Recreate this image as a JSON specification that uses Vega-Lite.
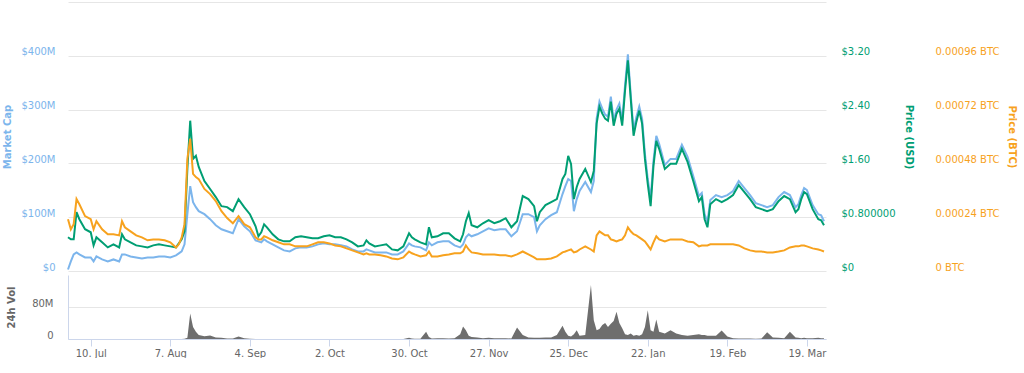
{
"$schema": "https://vega.github.io/schema/vega-lite/v6.json",
"padding": {"left": 2, "top": 2, "right": 2, "bottom": 0},
"background": "white",
"spacing": 4,
"bounds": "flush",
"data": {"values": [
{"date":"2017-07-02","mcap":2.8e6,"usd":0.501,"btc":0.000231,"vol":0},
{"date":"2017-07-03","mcap":17.8e6,"usd":0.471,"btc":0.000186,"vol":0},
{"date":"2017-07-04","mcap":30.8e6,"usd":0.471,"btc":0.000209,"vol":0},
{"date":"2017-07-05","mcap":34.6e6,"usd":0.875,"btc":0.000321,"vol":0},
{"date":"2017-07-06","mcap":30.8e6,"usd":0.770,"btc":0.000298,"vol":0},
{"date":"2017-07-08","mcap":25.2e6,"usd":0.621,"btc":0.000245,"vol":0},
{"date":"2017-07-10","mcap":25.2e6,"usd":0.576,"btc":0.000231,"vol":0},
{"date":"2017-07-11","mcap":17.8e6,"usd":0.381,"btc":0.000186,"vol":0},
{"date":"2017-07-12","mcap":27.1e6,"usd":0.501,"btc":0.000222,"vol":0},
{"date":"2017-07-14","mcap":21.5e6,"usd":0.426,"btc":0.000186,"vol":0},
{"date":"2017-07-16","mcap":17.8e6,"usd":0.351,"btc":0.000164,"vol":0},
{"date":"2017-07-18","mcap":21.5e6,"usd":0.396,"btc":0.000164,"vol":0},
{"date":"2017-07-20","mcap":17.8e6,"usd":0.351,"btc":0.000159,"vol":0},
{"date":"2017-07-21","mcap":30.8e6,"usd":0.546,"btc":0.000222,"vol":0},
{"date":"2017-07-22","mcap":30.8e6,"usd":0.471,"btc":0.000195,"vol":0},
{"date":"2017-07-24","mcap":27.1e6,"usd":0.426,"btc":0.000177,"vol":0},
{"date":"2017-07-26","mcap":25.2e6,"usd":0.381,"btc":0.000159,"vol":0},
{"date":"2017-07-28","mcap":23.4e6,"usd":0.366,"btc":0.000150,"vol":0},
{"date":"2017-07-30","mcap":25.2e6,"usd":0.351,"btc":0.000137,"vol":0},
{"date":"2017-08-01","mcap":25.2e6,"usd":0.381,"btc":0.000141,"vol":0},
{"date":"2017-08-03","mcap":27.1e6,"usd":0.396,"btc":0.000141,"vol":0},
{"date":"2017-08-05","mcap":27.1e6,"usd":0.381,"btc":0.000137,"vol":0},
{"date":"2017-08-07","mcap":25.2e6,"usd":0.366,"btc":0.000128,"vol":0},
{"date":"2017-08-09","mcap":29.0e6,"usd":0.351,"btc":0.000105,"vol":0},
{"date":"2017-08-10","mcap":32.7e6,"usd":0.411,"btc":0.000119,"vol":0},
{"date":"2017-08-11","mcap":36.4e6,"usd":0.471,"btc":0.000150,"vol":0},
{"date":"2017-08-12","mcap":49.5e6,"usd":0.591,"btc":0.000209,"vol":0.5e6},
{"date":"2017-08-13","mcap":105.6e6,"usd":1.518,"btc":0.000500,"vol":3e6},
{"date":"2017-08-14","mcap":157.9e6,"usd":2.235,"btc":0.000590,"vol":64e6},
{"date":"2017-08-15","mcap":128.0e6,"usd":1.667,"btc":0.000433,"vol":30e6},
{"date":"2017-08-16","mcap":118.7e6,"usd":1.712,"btc":0.000419,"vol":18e6},
{"date":"2017-08-17","mcap":111.2e6,"usd":1.548,"btc":0.000410,"vol":10e6},
{"date":"2017-08-19","mcap":105.6e6,"usd":1.338,"btc":0.000366,"vol":7e6},
{"date":"2017-08-21","mcap":96.3e6,"usd":1.219,"btc":0.000343,"vol":9e6},
{"date":"2017-08-23","mcap":85.0e6,"usd":1.099,"btc":0.000312,"vol":4e6},
{"date":"2017-08-25","mcap":77.6e6,"usd":0.964,"btc":0.000267,"vol":3e6},
{"date":"2017-08-27","mcap":73.8e6,"usd":0.950,"btc":0.000236,"vol":1e6},
{"date":"2017-08-29","mcap":70.1e6,"usd":0.890,"btc":0.000213,"vol":1e6},
{"date":"2017-08-31","mcap":96.3e6,"usd":1.069,"btc":0.000245,"vol":6e6},
{"date":"2017-09-02","mcap":83.2e6,"usd":0.950,"btc":0.000209,"vol":2e6},
{"date":"2017-09-04","mcap":73.8e6,"usd":0.845,"btc":0.000195,"vol":0.5e6},
{"date":"2017-09-06","mcap":57.0e6,"usd":0.665,"btc":0.000150,"vol":0},
{"date":"2017-09-07","mcap":55.1e6,"usd":0.516,"btc":0.000141,"vol":0},
{"date":"2017-09-08","mcap":53.3e6,"usd":0.576,"btc":0.000141,"vol":0},
{"date":"2017-09-09","mcap":58.9e6,"usd":0.695,"btc":0.000155,"vol":0},
{"date":"2017-09-10","mcap":55.1e6,"usd":0.650,"btc":0.000150,"vol":0},
{"date":"2017-09-12","mcap":49.5e6,"usd":0.546,"btc":0.000137,"vol":0},
{"date":"2017-09-14","mcap":43.9e6,"usd":0.471,"btc":0.000128,"vol":0},
{"date":"2017-09-16","mcap":38.3e6,"usd":0.441,"btc":0.000119,"vol":0},
{"date":"2017-09-18","mcap":36.4e6,"usd":0.441,"btc":0.000119,"vol":0},
{"date":"2017-09-20","mcap":42.1e6,"usd":0.501,"btc":0.000110,"vol":0},
{"date":"2017-09-22","mcap":43.9e6,"usd":0.516,"btc":0.000110,"vol":0},
{"date":"2017-09-24","mcap":43.9e6,"usd":0.501,"btc":0.000110,"vol":0},
{"date":"2017-09-26","mcap":45.8e6,"usd":0.486,"btc":0.000119,"vol":0},
{"date":"2017-09-28","mcap":49.5e6,"usd":0.486,"btc":0.000128,"vol":0},
{"date":"2017-09-30","mcap":51.4e6,"usd":0.516,"btc":0.000128,"vol":0},
{"date":"2017-10-02","mcap":49.5e6,"usd":0.531,"btc":0.000123,"vol":0},
{"date":"2017-10-04","mcap":49.5e6,"usd":0.501,"btc":0.000114,"vol":0},
{"date":"2017-10-06","mcap":47.7e6,"usd":0.501,"btc":0.000110,"vol":0},
{"date":"2017-10-08","mcap":45.8e6,"usd":0.471,"btc":0.000101,"vol":0},
{"date":"2017-10-10","mcap":40.2e6,"usd":0.426,"btc":0.000092,"vol":0},
{"date":"2017-10-12","mcap":36.4e6,"usd":0.366,"btc":0.000083,"vol":0},
{"date":"2017-10-14","mcap":36.4e6,"usd":0.381,"btc":0.000074,"vol":0},
{"date":"2017-10-15","mcap":40.2e6,"usd":0.456,"btc":0.000079,"vol":0},
{"date":"2017-10-16","mcap":38.3e6,"usd":0.411,"btc":0.000074,"vol":0},
{"date":"2017-10-18","mcap":34.6e6,"usd":0.366,"btc":0.000074,"vol":0},
{"date":"2017-10-20","mcap":34.6e6,"usd":0.381,"btc":0.000070,"vol":0},
{"date":"2017-10-22","mcap":34.6e6,"usd":0.396,"btc":0.000065,"vol":0},
{"date":"2017-10-24","mcap":30.8e6,"usd":0.321,"btc":0.000056,"vol":0},
{"date":"2017-10-26","mcap":30.8e6,"usd":0.307,"btc":0.000052,"vol":0},
{"date":"2017-10-28","mcap":36.4e6,"usd":0.366,"btc":0.000061,"vol":0},
{"date":"2017-10-30","mcap":51.4e6,"usd":0.561,"btc":0.000087,"vol":3e6},
{"date":"2017-10-31","mcap":47.7e6,"usd":0.501,"btc":0.000079,"vol":1e6},
{"date":"2017-11-01","mcap":45.8e6,"usd":0.471,"btc":0.000074,"vol":0.5e6},
{"date":"2017-11-03","mcap":43.9e6,"usd":0.426,"btc":0.000065,"vol":0.5e6},
{"date":"2017-11-05","mcap":38.3e6,"usd":0.396,"btc":0.000070,"vol":18e6},
{"date":"2017-11-06","mcap":53.3e6,"usd":0.650,"btc":0.000087,"vol":5e6},
{"date":"2017-11-07","mcap":47.7e6,"usd":0.501,"btc":0.000065,"vol":1e6},
{"date":"2017-11-09","mcap":53.3e6,"usd":0.516,"btc":0.000065,"vol":2e6},
{"date":"2017-11-11","mcap":55.1e6,"usd":0.561,"btc":0.000070,"vol":2e6},
{"date":"2017-11-13","mcap":55.1e6,"usd":0.561,"btc":0.000074,"vol":1e6},
{"date":"2017-11-15","mcap":47.7e6,"usd":0.486,"btc":0.000079,"vol":2e6},
{"date":"2017-11-17","mcap":43.9e6,"usd":0.441,"btc":0.000079,"vol":12e6},
{"date":"2017-11-18","mcap":49.5e6,"usd":0.546,"btc":0.000087,"vol":31e6},
{"date":"2017-11-19","mcap":62.6e6,"usd":0.740,"btc":0.000114,"vol":22e6},
{"date":"2017-11-20","mcap":68.2e6,"usd":0.860,"btc":0.000096,"vol":8e6},
{"date":"2017-11-21","mcap":64.5e6,"usd":0.680,"btc":0.000083,"vol":5e6},
{"date":"2017-11-23","mcap":68.2e6,"usd":0.650,"btc":0.000079,"vol":4e6},
{"date":"2017-11-25","mcap":73.8e6,"usd":0.710,"btc":0.000074,"vol":2e6},
{"date":"2017-11-27","mcap":79.4e6,"usd":0.755,"btc":0.000074,"vol":3e6},
{"date":"2017-11-29","mcap":75.7e6,"usd":0.710,"btc":0.000074,"vol":2e6},
{"date":"2017-12-01","mcap":77.6e6,"usd":0.740,"btc":0.000070,"vol":2e6},
{"date":"2017-12-03","mcap":77.6e6,"usd":0.785,"btc":0.000070,"vol":2e6},
{"date":"2017-12-05","mcap":64.5e6,"usd":0.650,"btc":0.000065,"vol":1e6},
{"date":"2017-12-07","mcap":73.8e6,"usd":0.740,"btc":0.000074,"vol":29e6},
{"date":"2017-12-09","mcap":105.6e6,"usd":1.114,"btc":0.000087,"vol":10e6},
{"date":"2017-12-11","mcap":105.6e6,"usd":1.069,"btc":0.000074,"vol":4e6},
{"date":"2017-12-13","mcap":100.0e6,"usd":0.964,"btc":0.000061,"vol":3e6},
{"date":"2017-12-14","mcap":73.8e6,"usd":0.740,"btc":0.000052,"vol":3e6},
{"date":"2017-12-15","mcap":85.0e6,"usd":0.875,"btc":0.000052,"vol":3e6},
{"date":"2017-12-17","mcap":96.3e6,"usd":0.979,"btc":0.000052,"vol":4e6},
{"date":"2017-12-19","mcap":103.7e6,"usd":1.024,"btc":0.000056,"vol":4e6},
{"date":"2017-12-21","mcap":109.3e6,"usd":1.069,"btc":0.000065,"vol":10e6},
{"date":"2017-12-23","mcap":143.0e6,"usd":1.368,"btc":0.000083,"vol":33e6},
{"date":"2017-12-24","mcap":157.9e6,"usd":1.443,"btc":0.000087,"vol":18e6},
{"date":"2017-12-25","mcap":171.0e6,"usd":1.712,"btc":0.000092,"vol":8e6},
{"date":"2017-12-26","mcap":167.3e6,"usd":1.593,"btc":0.000096,"vol":6e6},
{"date":"2017-12-27","mcap":111.2e6,"usd":1.069,"btc":0.000083,"vol":12e6},
{"date":"2017-12-28","mcap":133.6e6,"usd":1.249,"btc":0.000087,"vol":22e6},
{"date":"2017-12-29","mcap":148.6e6,"usd":1.368,"btc":0.000096,"vol":8e6},
{"date":"2017-12-31","mcap":165.4e6,"usd":1.518,"btc":0.000110,"vol":10e6},
{"date":"2018-01-02","mcap":146.7e6,"usd":1.323,"btc":0.000096,"vol":135e6},
{"date":"2018-01-03","mcap":167.3e6,"usd":1.488,"btc":0.000087,"vol":47e6},
{"date":"2018-01-04","mcap":283.2e6,"usd":2.191,"btc":0.000159,"vol":22e6},
{"date":"2018-01-05","mcap":315.0e6,"usd":2.445,"btc":0.000177,"vol":25e6},
{"date":"2018-01-06","mcap":301.9e6,"usd":2.340,"btc":0.000168,"vol":35e6},
{"date":"2018-01-07","mcap":290.7e6,"usd":2.265,"btc":0.000159,"vol":40e6},
{"date":"2018-01-08","mcap":286.9e6,"usd":2.235,"btc":0.000159,"vol":30e6},
{"date":"2018-01-09","mcap":324.3e6,"usd":2.520,"btc":0.000141,"vol":38e6},
{"date":"2018-01-10","mcap":279.4e6,"usd":2.161,"btc":0.000137,"vol":45e6},
{"date":"2018-01-11","mcap":300.0e6,"usd":2.340,"btc":0.000132,"vol":68e6},
{"date":"2018-01-12","mcap":311.2e6,"usd":2.415,"btc":0.000137,"vol":40e6},
{"date":"2018-01-13","mcap":279.4e6,"usd":2.161,"btc":0.000141,"vol":27e6},
{"date":"2018-01-14","mcap":344.9e6,"usd":2.684,"btc":0.000159,"vol":12e6},
{"date":"2018-01-15","mcap":402.8e6,"usd":3.133,"btc":0.000195,"vol":10e6},
{"date":"2018-01-16","mcap":328.0e6,"usd":2.564,"btc":0.000177,"vol":14e6},
{"date":"2018-01-17","mcap":260.8e6,"usd":2.011,"btc":0.000164,"vol":8e6},
{"date":"2018-01-18","mcap":286.9e6,"usd":2.221,"btc":0.000159,"vol":10e6},
{"date":"2018-01-19","mcap":305.6e6,"usd":2.385,"btc":0.000150,"vol":8e6},
{"date":"2018-01-20","mcap":283.2e6,"usd":2.191,"btc":0.000141,"vol":12e6},
{"date":"2018-01-21","mcap":217.8e6,"usd":1.667,"btc":0.000132,"vol":30e6},
{"date":"2018-01-22","mcap":171.0e6,"usd":1.293,"btc":0.000114,"vol":72e6},
{"date":"2018-01-23","mcap":133.6e6,"usd":0.964,"btc":0.000096,"vol":22e6},
{"date":"2018-01-24","mcap":204.7e6,"usd":1.563,"btc":0.000128,"vol":18e6},
{"date":"2018-01-25","mcap":251.4e6,"usd":1.936,"btc":0.000155,"vol":49e6},
{"date":"2018-01-26","mcap":236.5e6,"usd":1.817,"btc":0.000141,"vol":18e6},
{"date":"2018-01-28","mcap":197.2e6,"usd":1.518,"btc":0.000132,"vol":14e6},
{"date":"2018-01-30","mcap":208.4e6,"usd":1.593,"btc":0.000141,"vol":22e6},
{"date":"2018-02-01","mcap":208.4e6,"usd":1.593,"btc":0.000141,"vol":14e6},
{"date":"2018-02-03","mcap":234.6e6,"usd":1.817,"btc":0.000141,"vol":10e6},
{"date":"2018-02-05","mcap":212.2e6,"usd":1.622,"btc":0.000132,"vol":8e6},
{"date":"2018-02-07","mcap":176.6e6,"usd":1.338,"btc":0.000128,"vol":10e6},
{"date":"2018-02-09","mcap":139.3e6,"usd":1.039,"btc":0.000110,"vol":12e6},
{"date":"2018-02-10","mcap":144.9e6,"usd":1.099,"btc":0.000114,"vol":10e6},
{"date":"2018-02-11","mcap":105.6e6,"usd":0.770,"btc":0.000114,"vol":10e6},
{"date":"2018-02-12","mcap":90.7e6,"usd":0.650,"btc":0.000114,"vol":8e6},
{"date":"2018-02-13","mcap":131.8e6,"usd":0.994,"btc":0.000119,"vol":8e6},
{"date":"2018-02-15","mcap":141.1e6,"usd":1.069,"btc":0.000119,"vol":8e6},
{"date":"2018-02-17","mcap":137.4e6,"usd":1.024,"btc":0.000119,"vol":21e6},
{"date":"2018-02-19","mcap":141.1e6,"usd":1.069,"btc":0.000119,"vol":6e6},
{"date":"2018-02-21","mcap":148.6e6,"usd":1.129,"btc":0.000119,"vol":2e6},
{"date":"2018-02-23","mcap":167.3e6,"usd":1.278,"btc":0.000114,"vol":1e6},
{"date":"2018-02-25","mcap":154.2e6,"usd":1.174,"btc":0.000101,"vol":1e6},
{"date":"2018-02-27","mcap":141.1e6,"usd":1.069,"btc":0.000092,"vol":1e6},
{"date":"2018-03-01","mcap":126.2e6,"usd":0.950,"btc":0.000087,"vol":0.5e6},
{"date":"2018-03-03","mcap":122.4e6,"usd":0.920,"btc":0.000087,"vol":1e6},
{"date":"2018-03-05","mcap":118.7e6,"usd":0.890,"btc":0.000083,"vol":17e6},
{"date":"2018-03-07","mcap":122.4e6,"usd":0.920,"btc":0.000083,"vol":4e6},
{"date":"2018-03-09","mcap":137.4e6,"usd":1.039,"btc":0.000087,"vol":3e6},
{"date":"2018-03-11","mcap":146.7e6,"usd":1.114,"btc":0.000092,"vol":2e6},
{"date":"2018-03-13","mcap":141.1e6,"usd":1.069,"btc":0.000105,"vol":18e6},
{"date":"2018-03-15","mcap":118.7e6,"usd":0.875,"btc":0.000110,"vol":4e6},
{"date":"2018-03-16","mcap":124.3e6,"usd":0.920,"btc":0.000110,"vol":3e6},
{"date":"2018-03-17","mcap":141.1e6,"usd":1.069,"btc":0.000114,"vol":2e6},
{"date":"2018-03-18","mcap":154.2e6,"usd":1.174,"btc":0.000114,"vol":3e6},
{"date":"2018-03-19","mcap":150.5e6,"usd":1.144,"btc":0.000110,"vol":2e6},
{"date":"2018-03-21","mcap":122.4e6,"usd":0.920,"btc":0.000101,"vol":2e6},
{"date":"2018-03-23","mcap":105.6e6,"usd":0.770,"btc":0.000096,"vol":3e6},
{"date":"2018-03-24","mcap":103.7e6,"usd":0.755,"btc":0.000092,"vol":2e6},
{"date":"2018-03-25","mcap":92.5e6,"usd":0.680,"btc":0.000087,"vol":2e6}
]},
"vconcat": [
{
 "width": 758, "height": 269,
 "layer": [
  {"mark": {"type": "line", "color": "#7cb5ec", "strokeWidth": 2},
   "encoding": {
    "x": {"field": "date", "type": "temporal", "scale": {"type": "utc", "domain": [{"year": 2017, "month": 7, "date": 2, "utc": true}, {"year": 2018, "month": 3, "date": 25, "hours": 17, "utc": true}]}, "axis": null},
    "y": {"field": "mcap", "type": "quantitative", "scale": {"domain": [0, 500000000], "nice": false},
     "axis": {"title": "Market Cap", "orient": "left", "values": [0, 100000000, 200000000, 300000000, 400000000, 500000000],
      "labelExpr": "datum.value == 0 ? '$0' : datum.value >= 500000000 ? '' : '$' + format(datum.value / 1000000, 'd') + 'M'",
      "labelColor": "#7cb5ec", "titleColor": "#7cb5ec", "titleFontWeight": "bold", "ticks": false, "domain": false,
      "grid": true, "gridColor": "#e6e6e6", "labelPadding": 13, "titlePadding": 8, "labelBaseline": "alphabetic", "labelOffset": -1}}
   }},
  {"mark": {"type": "line", "color": "#009e73", "strokeWidth": 2},
   "encoding": {
    "x": {"field": "date", "type": "temporal"},
    "y": {"field": "usd", "type": "quantitative", "scale": {"domain": [0, 4], "nice": false},
     "axis": {"title": "Price (USD)", "orient": "right", "values": [0, 0.8, 1.6, 2.4, 3.2],
      "labelExpr": "datum.value == 0 ? '$0' : datum.value == 0.8 ? '$0.800000' : '$' + format(datum.value, '.2f')",
      "labelColor": "#009e73", "titleColor": "#009e73", "titleFontWeight": "bold", "ticks": false, "domain": false,
      "grid": false, "labelPadding": 15, "titlePadding": 8, "labelBaseline": "alphabetic", "labelOffset": -1}}
   }},
  {"mark": {"type": "line", "color": "#f7a21e", "strokeWidth": 2},
   "encoding": {
    "x": {"field": "date", "type": "temporal"},
    "y": {"field": "btc", "type": "quantitative", "scale": {"domain": [0, 0.0012], "nice": false},
     "axis": {"title": "Price (BTC)", "orient": "right", "offset": 94, "values": [0, 0.00024, 0.00048, 0.00072, 0.00096],
      "labelExpr": "datum.value == 0 ? '0 BTC' : format(datum.value, '.5f') + ' BTC'",
      "labelColor": "#f7a21e", "titleColor": "#f7a21e", "titleFontWeight": "bold", "ticks": false, "domain": false,
      "grid": false, "labelPadding": 15, "titlePadding": 8, "labelBaseline": "alphabetic", "labelOffset": -1}}
   }}
 ],
 "resolve": {"scale": {"y": "independent"}, "axis": {"y": "independent"}}
},
{
 "width": 758, "height": 64,
 "mark": {"type": "area", "color": "#6e6e6e", "interpolate": "linear"},
 "encoding": {
  "x": {"field": "date", "type": "temporal", "scale": {"type": "utc", "domain": [{"year": 2017, "month": 7, "date": 2, "utc": true}, {"year": 2018, "month": 3, "date": 25, "hours": 17, "utc": true}]},
   "axis": {"title": null, "labelExpr": "utcFormat(datum.value, '%-d. %b')", "grid": false, "labelFlush": false, "labelOverlap": false,
    "values": [{"year": 2017, "month": 7, "date": 10, "utc": true}, {"year": 2017, "month": 8, "date": 7, "utc": true}, {"year": 2017, "month": 9, "date": 4, "utc": true}, {"year": 2017, "month": 10, "date": 2, "utc": true}, {"year": 2017, "month": 10, "date": 30, "utc": true}, {"year": 2017, "month": 11, "date": 27, "utc": true}, {"year": 2017, "month": 12, "date": 25, "utc": true}, {"year": 2018, "month": 1, "date": 22, "utc": true}, {"year": 2018, "month": 2, "date": 19, "utc": true}, {"year": 2018, "month": 3, "date": 19, "utc": true}],
    "labelColor": "#666666", "tickColor": "#ccd6eb", "domainColor": "#ccd6eb", "tickSize": 7, "labelPadding": 2}},
  "y": {"field": "vol", "type": "quantitative", "scale": {"domain": [0, 160000000], "nice": false},
   "axis": {"title": "24h Vol", "values": [0, 80000000], "labelExpr": "datum.value == 0 ? '0' : format(datum.value / 1000000, 'd') + 'M'", "labelColor": "#666666", "titleColor": "#666666", "titleFontWeight": "bold",
    "ticks": false, "domain": true, "domainColor": "#ccd6eb", "grid": true, "gridColor": "#e6e6e6", "labelPadding": 15, "titlePadding": 15,
    "labelBaseline": "alphabetic", "labelOffset": -1}}
 }
}
],
"config": {
 "view": {"stroke": null},
 "axis": {"labelFont": "DejaVu Sans", "titleFont": "DejaVu Sans", "labelFontSize": 10, "titleFontSize": 10}
}
}
